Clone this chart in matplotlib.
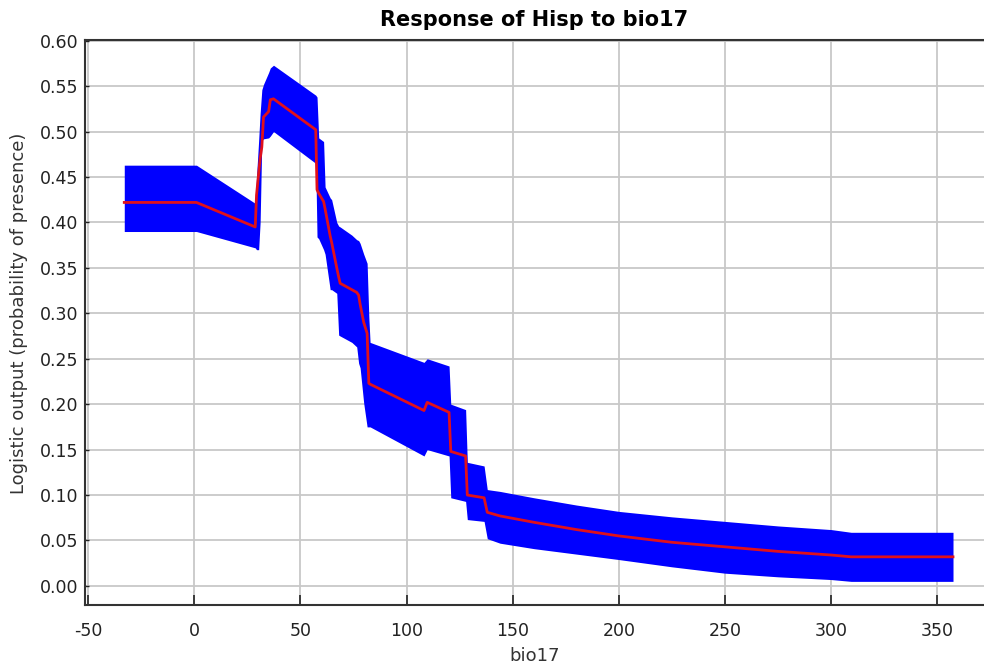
import matplotlib
matplotlib.use('Agg')
import matplotlib.pyplot as plt
import numpy as np

plt.rcParams['axes.unicode_minus'] = False

# bio17 values and response (mean, mean+sd, mean-sd)
bio17 = [-33, 1, 28.7, 29.3, 30.3, 31.0, 31.8, 32.6, 35.0, 35.8, 37.3, 57.2, 57.8,
         58.6, 60.9, 61.6, 64.0, 64.7, 67.1, 68.0, 68.7, 74.2, 76.5, 77.4, 78.1,
         79.8, 81.4, 82.2, 82.8, 108.2, 109.7, 120, 120.8, 127.8, 128.6, 136.5,
         138, 144, 160, 180, 200, 225, 250, 275, 300, 309.4, 357.4]
mean = [0.422, 0.422, 0.395, 0.43, 0.454, 0.47, 0.483, 0.516, 0.522, 0.535, 0.536,
        0.502, 0.436, 0.432, 0.423, 0.415, 0.385, 0.378, 0.350, 0.340, 0.333,
        0.326, 0.323, 0.320, 0.31, 0.29, 0.278, 0.223, 0.222, 0.193, 0.202,
        0.191, 0.148, 0.143, 0.100, 0.097, 0.081, 0.077, 0.070, 0.062, 0.055,
        0.048, 0.043, 0.038, 0.034, 0.032, 0.032]
upper = [0.463, 0.463, 0.421, 0.45, 0.49, 0.52, 0.546, 0.552, 0.565, 0.570, 0.573,
         0.540, 0.538, 0.493, 0.489, 0.439, 0.427, 0.425, 0.40, 0.396, 0.395,
         0.386, 0.381, 0.380, 0.377, 0.365, 0.355, 0.296, 0.268, 0.246, 0.25,
         0.242, 0.200, 0.194, 0.136, 0.132, 0.106, 0.104, 0.097, 0.089, 0.082,
         0.076, 0.071, 0.066, 0.062, 0.059, 0.059]
lower = [0.390, 0.390, 0.372, 0.37, 0.37, 0.40, 0.49, 0.492, 0.493, 0.495, 0.50,
         0.465, 0.384, 0.382, 0.370, 0.365, 0.326, 0.326, 0.322, 0.276, 0.275,
         0.268, 0.263, 0.245, 0.24, 0.201, 0.175, 0.175, 0.175, 0.143, 0.150,
         0.143, 0.097, 0.093, 0.073, 0.071, 0.052, 0.047, 0.041, 0.035, 0.029,
         0.021, 0.014, 0.010, 0.007, 0.005, 0.005]

xticks = [-50, 0, 50, 100, 150, 200, 250, 300, 350]
yticks = np.arange(0, 0.61, 0.05)

fig = plt.figure(figsize=(9.84, 6.70), dpi=100)
ax = fig.add_axes([85/984, 1 - 605/670, 1 - 85/984, (605 - 39.5)/670])

ax.fill_between(bio17, lower, upper, color='#0000ff', lw=0, zorder=2)
ax.plot(bio17, mean, color='#e0101a', lw=2, zorder=3)

ax.set_xlim(-51.5, 372)
ax.set_ylim(-0.021, 0.6013)
ax.set_xticks(xticks)
ax.set_yticks(yticks)
ax.set_yticklabels(['%.2f' % v for v in yticks])
ax.grid(True, color='#c8c8c8', lw=1.3, zorder=0)
ax.set_axisbelow(True)

ax.tick_params(axis='x', direction='in', length=7, width=1.2, labelsize=12.5,
               colors='#222222', pad=12)
ax.tick_params(axis='y', direction='in', length=3, width=1, labelsize=12.5,
               colors='#222222', pad=5)
ax.spines['right'].set_visible(False)
for s in ['left', 'bottom', 'top']:
    ax.spines[s].set_color('#333333')
    ax.spines[s].set_linewidth(1.5)

ax.set_title('Response of Hisp to bio17', fontsize=15, fontweight='bold', pad=10)
ax.set_xlabel('bio17', fontsize=13, color='#333333', labelpad=5)
ax.set_ylabel('Logistic output (probability of presence)', fontsize=13,
              color='#333333')
ax.yaxis.set_label_coords(-0.063, 0.516)

fig.savefig('out.png', dpi=100)
